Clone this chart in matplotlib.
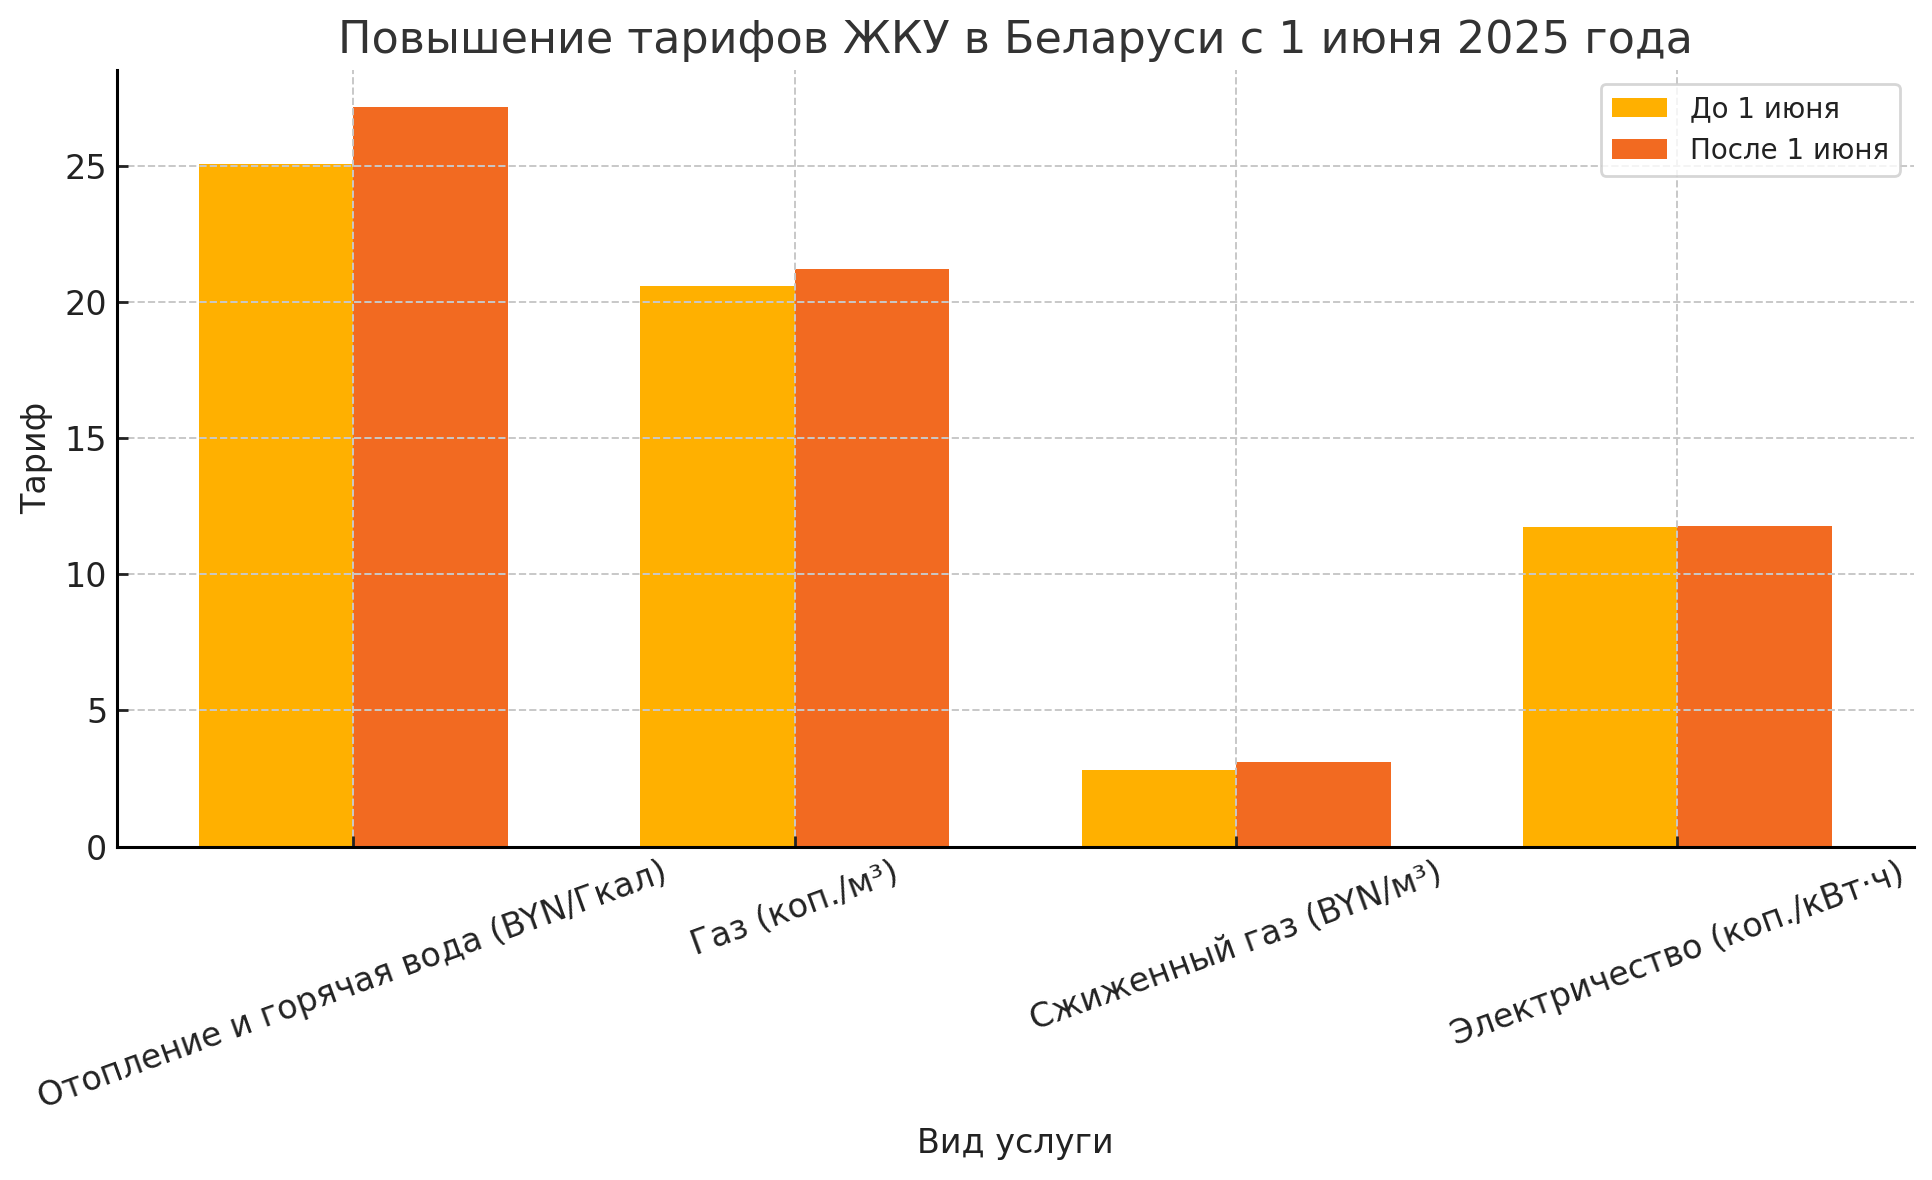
import numpy as np
import matplotlib
matplotlib.use("Agg")
import matplotlib.pyplot as plt

# данные тарифов
categories = [
    "Отопление и горячая вода (BYN/Гкал)",
    "Газ (коп./м³)",
    "Сжиженный газ (BYN/м³)",
    "Электричество (коп./кВт·ч)",
]
before = [25.06, 20.6, 2.82, 11.73]
after = [27.16, 21.2, 3.09, 11.77]
legend_labels = ["До 1 июня", "После 1 июня"]

plt.rcParams['font.family'] = ['DejaVu Sans']
plt.rcParams['text.color'] = '#222222'
plt.rcParams['axes.labelcolor'] = '#222222'
plt.rcParams['xtick.color'] = '#222222'
plt.rcParams['ytick.color'] = '#222222'

x = np.arange(len(categories))
width = 0.35

fig, ax = plt.subplots(figsize=(9.665, 5.9), dpi=200)
fig.subplots_adjust(left=0.0605, right=0.990, top=0.9407, bottom=0.2825)

ax.bar(x - width / 2, before, width, label=legend_labels[0], color='#FFB000')
ax.bar(x + width / 2, after, width, label=legend_labels[1], color='#F26A21')

ax.set_title("Повышение тарифов ЖКУ в Беларуси с 1 июня 2025 года",
             fontsize=16, color='#333333')
ax.set_xlabel("Вид услуги", fontsize=12)
ax.set_ylabel("Тариф", fontsize=12)
ax.set_xticks(x)
ax.set_xticklabels(categories, rotation=20, ha='center', fontsize=12)
ax.tick_params(axis='y', labelsize=12)
ax.tick_params(direction='in', length=4, width=1)

ax.spines['top'].set_visible(False)
ax.spines['right'].set_visible(False)
ax.spines['left'].set_linewidth(1.1)
ax.spines['bottom'].set_linewidth(1.1)
ax.grid(True, linestyle='--', color='#c8c8c8', linewidth=0.7)

ax.legend(fontsize=10, loc='upper right')

fig.savefig("out.png", dpi=200)
